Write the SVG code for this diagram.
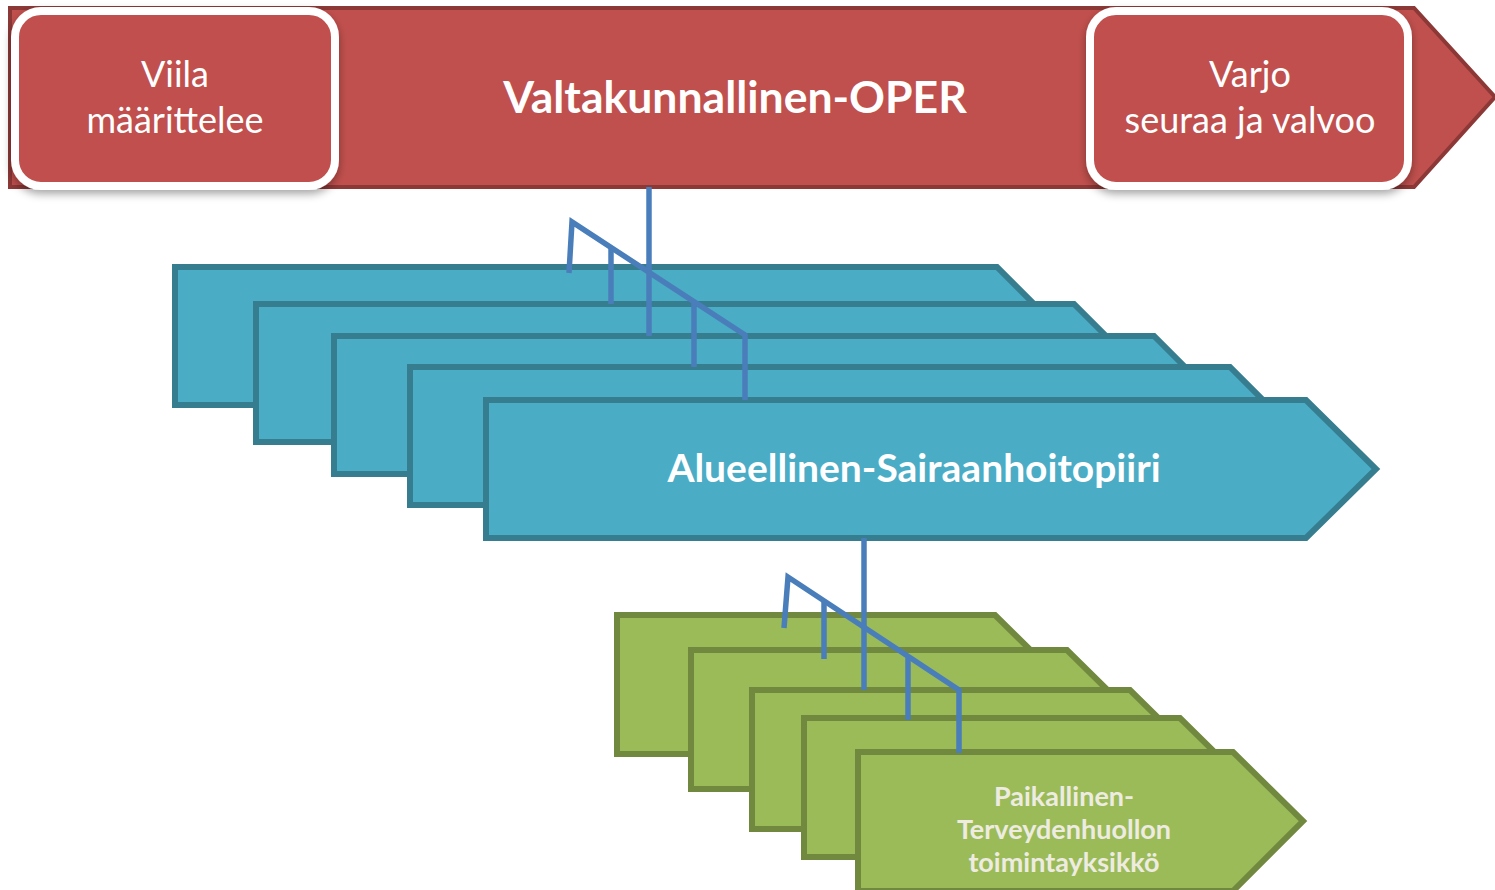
<svg xmlns="http://www.w3.org/2000/svg" width="1495" height="890" viewBox="0 0 1495 890">
<style>
.red{fill:#C0504D;stroke:#8C3836;stroke-width:4}
.box{fill:#C0504D;stroke:#FFFFFF;stroke-width:8;filter:url(#sh)}
.blue{fill:#4BACC6;stroke:#357D8F;stroke-width:6}
.green{fill:#9BBB59;stroke:#71893F;stroke-width:6}
.conn{fill:none;stroke:#4A7EBB;stroke-width:5.5}
.t{font-family:Lato,"Liberation Sans",sans-serif;text-anchor:middle;fill:#FFFFFF}
.b{font-weight:bold}
.g{fill:#EEECE1}
</style>
<defs>
<filter id="sh" x="-10%" y="-10%" width="120%" height="130%">
<feDropShadow dx="0" dy="4" stdDeviation="4" flood-color="#000" flood-opacity="0.35"/>
</filter>
</defs>
<g id="oper">
<polygon class="red" points="10,8 1414,8 1495,97 1414,187 10,187"/>
<text class="t b" x="735" y="113" font-size="44.5">Valtakunnallinen-OPER</text>
</g>
<g id="viila">
<rect class="box" x="15" y="11" width="320" height="175" rx="26"/>
<text class="t" x="175" y="87" font-size="36">Viila</text>
<text class="t" x="175" y="133" font-size="36">määrittelee</text>
</g>
<g id="varjo">
<rect class="box" x="1090" y="11" width="318" height="175" rx="26"/>
<text class="t" x="1250" y="87" font-size="36">Varjo</text>
<text class="t" x="1250" y="133" font-size="36">seuraa ja valvoo</text>
</g>
<g id="blue1"><polygon class="blue" points="175,267 997,267 1066,336 997,405 175,405"/></g>
<g id="blue2"><polygon class="blue" points="256,304 1074,304 1143,373 1074,442 256,442"/></g>
<g id="blue3"><polygon class="blue" points="334,336 1154,336 1223,405 1154,474 334,474"/></g>
<g id="blue4"><polygon class="blue" points="410,367 1230,367 1299,436 1230,505 410,505"/></g>
<g id="alueellinen">
<polygon class="blue" points="486,400 1306,400 1376,469 1306,538 486,538"/>
<text class="t b" x="914" y="482" font-size="39">Alueellinen-Sairaanhoitopiiri</text>
</g>
<g id="green1"><polygon class="green" points="617,615 995,615 1065,684 995,754 617,754"/></g>
<g id="green2"><polygon class="green" points="691,650 1067,650 1137,719 1067,789 691,789"/></g>
<g id="green3"><polygon class="green" points="752,690 1130,690 1200,759 1130,829 752,829"/></g>
<g id="green4"><polygon class="green" points="804,718 1180,718 1250,787 1180,857 804,857"/></g>
<g id="paikallinen">
<polygon class="green" points="858,752 1233,752 1303,821 1233,891 858,891"/>
<text class="t b g" x="1064" y="806" font-size="27">Paikallinen-</text>
<text class="t b g" x="1064" y="839" font-size="27">Terveydenhuollon</text>
<text class="t b g" x="1064" y="872" font-size="27">toimintayksikkö</text>
</g>
<g id="connectors">
<line class="conn" x1="649" y1="187" x2="649" y2="336"/>
<polyline class="conn" points="569,273 572,222 745,335 745,400"/>
<line class="conn" x1="611" y1="248" x2="611" y2="304"/>
<line class="conn" x1="694" y1="302" x2="694" y2="367"/>
<line class="conn" x1="864" y1="538" x2="864" y2="690"/>
<polyline class="conn" points="784,628 788,577 959,690 959,753"/>
<line class="conn" x1="824" y1="601" x2="824" y2="659"/>
<line class="conn" x1="908" y1="656" x2="908" y2="720"/>
</g>
</svg>
